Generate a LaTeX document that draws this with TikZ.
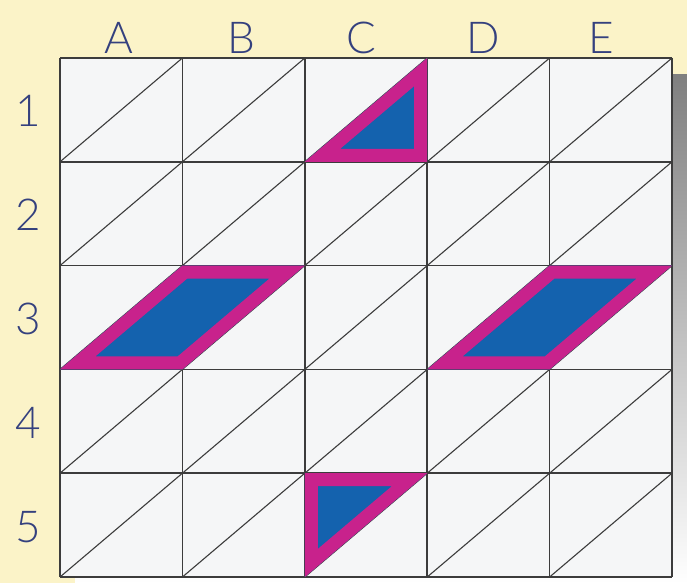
\documentclass[tikz,border=0pt]{standalone}
\usepackage{fontspec}
\setmainfont{TeX Gyre Heros}
\newfontfamily\thinfont{Lato Light}
\usepackage{tikz}
\definecolor{paper}{HTML}{FBF3C8}
\definecolor{cellgray}{HTML}{F5F6F7}
\definecolor{linegray}{HTML}{3C3C3C}
\definecolor{shade}{HTML}{3A3A3C}
\definecolor{inkblue}{HTML}{34407E}
\definecolor{tilepink}{HTML}{C8228C}
\definecolor{tileblue}{HTML}{1462AE}

% one coloured tile: blue inside, pink rim kept inside the outline
\newcommand\tilepiece[1]{%
  \begin{scope}
    \clip #1 -- cycle;
    \fill[tileblue] #1 -- cycle;
    \draw[tilepink, line width=26pt, line join=miter] #1 -- cycle;
  \end{scope}}

\begin{document}
\begin{tikzpicture}[x=1pt, y=-1pt,
  gridline/.style={draw=linegray, line width=1.5pt},
  diag/.style={draw=linegray, line width=1.1pt},
  lbl/.style={font=\thinfont\fontsize{44}{44}\selectfont, text=inkblue, inner sep=0pt}
]
\fill[paper] (0,0) rectangle (687,583);
\useasboundingbox (0,0) rectangle (687,583);

% grid points
\foreach \c in {0,...,5}
  \foreach \r in {0,...,5}
    \coordinate (p\c\r) at ({60+122.4*\c},{58+103.8*\r});

% shadow and board
\fill[shade] (75,75) rectangle (687,583);
\fill[cellgray] (p00) rectangle (p55);

% diagonals
\foreach \c/\cn in {0/1,1/2,2/3,3/4,4/5}
  \foreach \r/\rn in {0/1,1/2,2/3,3/4,4/5}
    \draw[diag] (p\c\rn) -- (p\cn\r);

% cell lines
\foreach \i in {0,...,5} {
  \draw[gridline] (p\i0) -- (p\i5);
  \draw[gridline] (p0\i) -- (p5\i);
}

% tiles
\tilepiece{(p21) -- (p30) -- (p31)}
\tilepiece{(p03) -- (p12) -- (p22) -- (p13)}
\tilepiece{(p33) -- (p42) -- (p52) -- (p43)}
\tilepiece{(p24) -- (p34) -- (p25)}

% labels
\node[lbl] (colA) at (119,38) {A};
\node[lbl] (colB) at (241,38) {B};
\node[lbl] (colC) at (361,38) {C};
\node[lbl] (colD) at (483,38) {D};
\node[lbl] (colE) at (601,38) {E};
\node[lbl] (row1) at (28,111) {1};
\node[lbl] (row2) at (28,215) {2};
\node[lbl] (row3) at (28,319) {3};
\node[lbl] (row4) at (28,423) {4};
\node[lbl] (row5) at (28,527) {5};
\end{tikzpicture}
\end{document}
